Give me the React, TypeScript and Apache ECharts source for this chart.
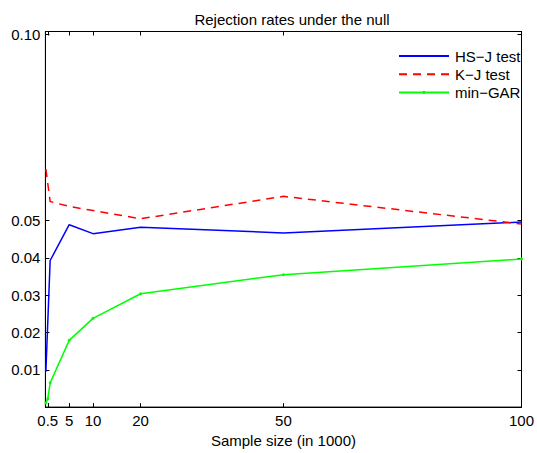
import React, { useEffect, useRef } from "react";
import * as echarts from "echarts";

const titleText = "Rejection rates under the null";
const xAxisName = "Sample size (in 1000)";
const xTicks = [0.5, 5, 10, 20, 50, 100];
const yTicks = [0.01, 0.02, 0.03, 0.04, 0.05, 0.1];

const hsjX = [0.1, 1, 5, 10, 20, 50, 100];
const hsjY = [0.0095, 0.0393, 0.0489, 0.0465, 0.0482, 0.0467, 0.0496];

const kjX = [0.1, 1, 5, 10, 20, 50, 100];
const kjY = [0.0638, 0.0551, 0.0538, 0.0527, 0.0505, 0.0565, 0.0491];

const garX = [0.1, 0.5, 1, 5, 10, 20, 50, 100];
const garY = [0.0011, 0.0022, 0.0065, 0.0179, 0.0238, 0.0304, 0.0355, 0.0397];

const FONT = "'Liberation Sans', Arial, Helvetica, sans-serif";
const FS = 15;

function pairs(xs: number[], ys: number[]) {
  return xs.map((x, i) => [x, ys[i]]);
}

export default function App() {
  const ref = useRef<HTMLDivElement>(null);
  useEffect(() => {
    if (!ref.current) return;
    const chart = echarts.init(ref.current, undefined, { renderer: "svg" });
    const axisLine = { show: true, onZero: false, lineStyle: { color: "#000", width: 1 } };
    const xCommon = {
      type: "value" as const,
      min: 0,
      max: 100,
      splitLine: { show: false },
      axisLine,
    };
    const yCommon = {
      type: "value" as const,
      min: 0,
      max: 0.1007,
      splitLine: { show: false },
      axisLine,
    };
    const tick = (vals: number[]) => ({
      show: true,
      inside: true,
      length: 4,
      customValues: vals,
      lineStyle: { color: "#000" },
    });
    chart.setOption({
      animation: false,
      backgroundColor: "#fff",
      title: {
        text: titleText,
        left: 287,
        textAlign: "center",
        top: 7,
        textStyle: { fontFamily: FONT, fontSize: FS, fontWeight: "normal", color: "#000" },
      },
      grid: {
        left: 45.4,
        right: 13,
        top: 31.5,
        bottom: 44.3,
        containLabel: false,
        show: true,
        borderColor: "#000",
        borderWidth: 1,
        backgroundColor: "transparent",
      },
      legend: {
        orient: "vertical",
        left: 393,
        top: 42,
        itemWidth: 50,
        itemHeight: 4,
        itemGap: 0.2,
        textStyle: { fontFamily: FONT, fontSize: FS, color: "#000", lineHeight: 18, padding: [0, 0, 0, 1] },
        data: [
          { name: "HS\u2212J test", itemStyle: { opacity: 0 } },
          { name: "K\u2212J test", itemStyle: { opacity: 0 } },
          { name: "min\u2212GAR" },
        ],
      },
      xAxis: [
        {
          ...xCommon,
          position: "bottom",
          name: xAxisName,
          nameLocation: "middle",
          nameGap: 25,
          nameTextStyle: { fontFamily: FONT, fontSize: FS, color: "#000" },
          axisTick: tick(xTicks),
          axisLabel: {
            show: true,
            customValues: xTicks,
            fontFamily: FONT,
            fontSize: FS,
            color: "#000",
            margin: 6,
            formatter: (v: number) => String(v),
          },
        },
        {
          ...xCommon,
          position: "top",
          axisTick: tick(xTicks),
          axisLabel: { show: false },
        },
      ],
      yAxis: [
        {
          ...yCommon,
          position: "left",
          axisTick: tick(yTicks),
          axisLabel: {
            show: true,
            customValues: yTicks,
            fontFamily: FONT,
            fontSize: FS,
            color: "#000",
            margin: 5,
            formatter: (v: number) => v.toFixed(2),
          },
        },
        {
          ...yCommon,
          position: "right",
          axisTick: tick(yTicks),
          axisLabel: { show: false },
        },
      ],
      series: [
        {
          name: "HS\u2212J test",
          type: "line",
          data: pairs(hsjX, hsjY),
          symbol: "none",
          lineStyle: { color: "#0000ff", width: 1.5 },
          itemStyle: { color: "#0000ff" },
        },
        {
          name: "K\u2212J test",
          type: "line",
          data: pairs(kjX, kjY),
          symbol: "none",
          lineStyle: { color: "#ff0000", width: 1.5, type: [8, 6] },
          itemStyle: { color: "#ff0000" },
        },
        {
          name: "min\u2212GAR",
          type: "line",
          data: pairs(garX, garY),
          symbol: "circle",
          symbolSize: 3,
          lineStyle: { color: "#00ff00", width: 1.5 },
          itemStyle: { color: "#00ff00" },
        },
      ],
    });
    return () => chart.dispose();
  }, []);
  return (
    <div
      ref={ref}
      style={{ position: "fixed", left: 0, top: 0, width: 537, height: 453, background: "#fff" }}
    />
  );
}
